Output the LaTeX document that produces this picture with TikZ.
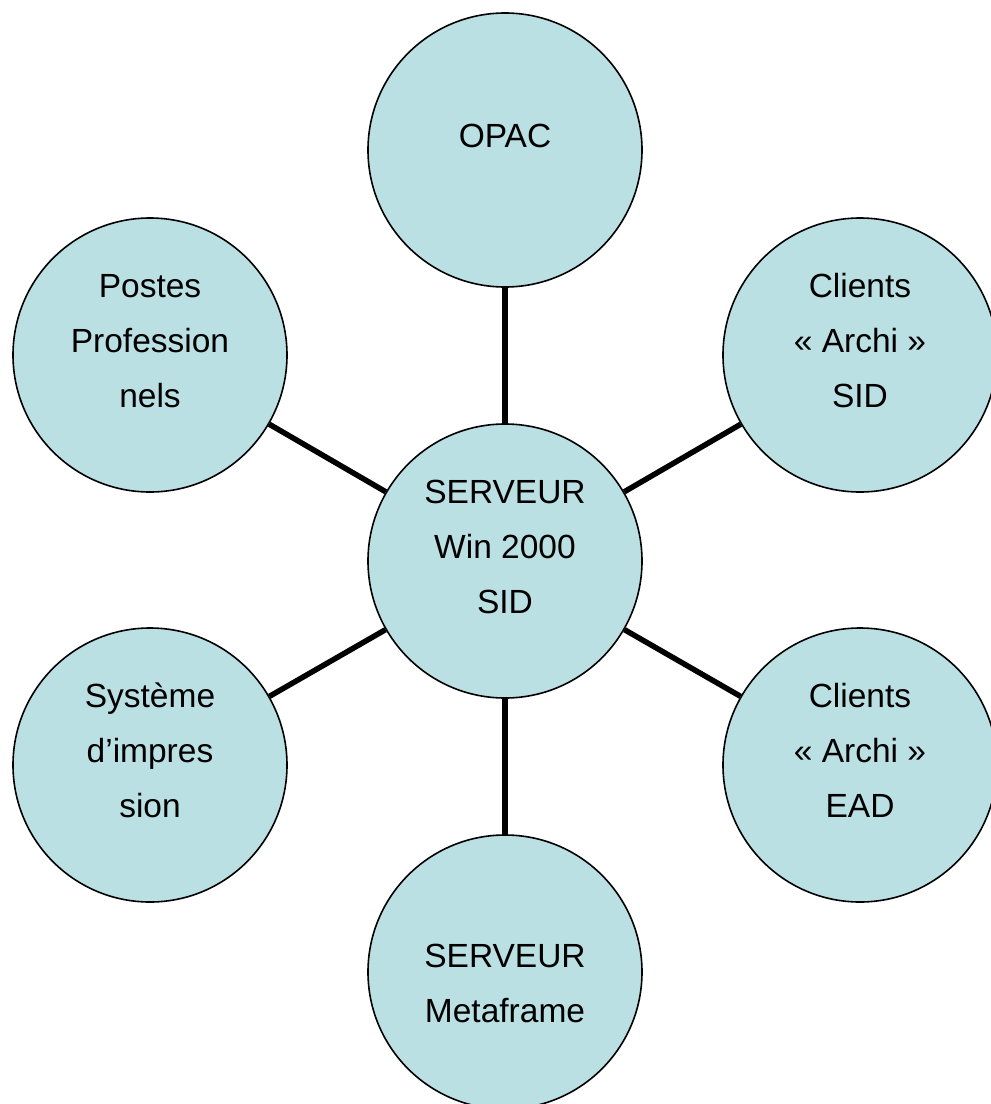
\documentclass[tikz,border=0pt]{standalone}
\usepackage{fontspec}
\setmainfont{Liberation Sans}
\definecolor{bubble}{RGB}{187,224,227}
\begin{document}
\begin{tikzpicture}[x=1pt,y=-1pt,
  bubblenode/.style={circle,draw=black,line width=1.6pt,fill=bubble,minimum size=274pt,inner sep=0pt},
  labeltext/.style={align=center,anchor=base,inner sep=0pt,font=\fontsize{33.5}{55}\selectfont},
  link/.style={line width=5.5pt,draw=black}]
\useasboundingbox (0,0) rectangle (991,1104);
\clip (0,0) rectangle (991,1104);
\node[bubblenode] (opac) at (505,150) {};
\node[bubblenode] (postes) at (150,355) {};
\node[bubblenode] (sid) at (860,355) {};
\node[bubblenode] (srv) at (505,561) {};
\node[bubblenode] (impr) at (150,765) {};
\node[bubblenode] (ead) at (860,765) {};
\node[bubblenode] (meta) at (505,972) {};
\foreach \n in {opac,postes,sid,impr,ead,meta}{\draw[link] (srv) -- (\n);}
\node[labeltext] (opacT) at (505,147) {OPAC};
\node[labeltext] (postesT) at (150,407) {Postes\\Profession\\nels};
\node[labeltext] (sidT) at (860,407) {Clients\\«~Archi~»\\SID};
\node[labeltext] (srvT) at (505,613) {SERVEUR\\Win 2000\\SID};
\node[labeltext] (imprT) at (150,817) {Système\\d’impres\\sion};
\node[labeltext] (eadT) at (860,817) {Clients\\«~Archi~»\\EAD};
\node[labeltext] (metaT) at (505,1022) {SERVEUR\\Metaframe};
\end{tikzpicture}
\end{document}
